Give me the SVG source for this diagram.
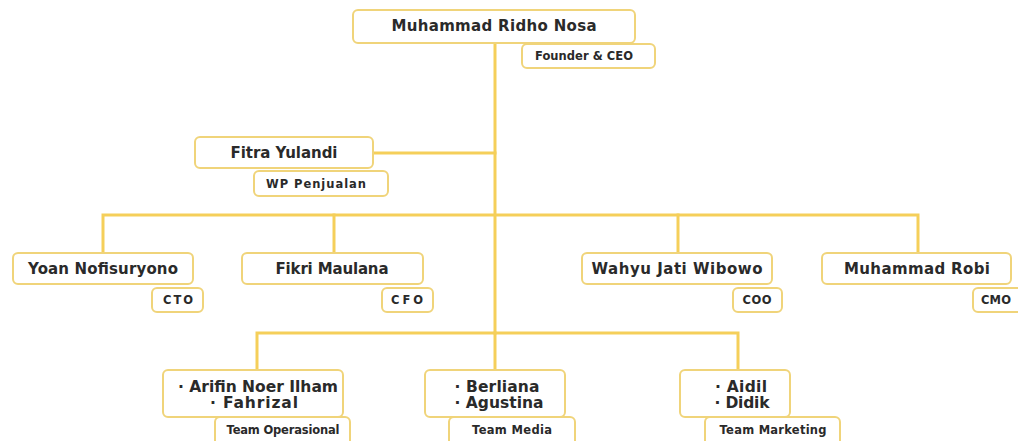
<svg xmlns="http://www.w3.org/2000/svg" width="1018" height="441" viewBox="0 0 1018 441">
<style>
.bg{fill:#ffffff}
.box{fill:#ffffff;stroke:#f0d47a;stroke-width:2}
.ln{fill:none;stroke:#f5cf5a;stroke-width:3;stroke-linecap:square}
.nm{font-family:"DejaVu Sans","Liberation Sans",sans-serif;font-weight:bold;font-size:15px;fill:#2a2a2a;text-anchor:middle}
.rl{font-family:"DejaVu Sans","Liberation Sans",sans-serif;font-weight:bold;font-size:11.5px;fill:#2a2a2a;text-anchor:middle}
.bl{font-family:"DejaVu Sans","Liberation Sans",sans-serif;font-weight:bold;font-size:15.5px;fill:#2a2a2a;text-anchor:middle}
</style>
<rect class="bg" x="0" y="0" width="1018" height="441"/>
<g id="connectors">
<path class="ln" d="M495 43 V333"/>
<path class="ln" d="M373 153 H495"/>
<path class="ln" d="M103 253 V215 H918 V253"/>
<path class="ln" d="M334 215 V253"/>
<path class="ln" d="M678 215 V253"/>
<path class="ln" d="M257 370 V333 H738 V370"/>
<path class="ln" d="M495 333 V370"/>
</g>
<g id="ceo">
<rect class="box" x="353" y="10" width="282" height="33" rx="5"/>
<text class="nm" x="494" y="31" textLength="205">Muhammad Ridho Nosa</text>
<rect class="box" x="522" y="44" width="133" height="24" rx="5"/>
<text class="rl" x="584" y="60" textLength="98">Founder &amp; CEO</text>
</g>
<g id="fitra">
<rect class="box" x="195" y="137" width="178" height="31" rx="5"/>
<text class="nm" x="284" y="158" textLength="107">Fitra Yulandi</text>
<rect class="box" x="254" y="171" width="134" height="25" rx="5"/>
<text class="rl" x="316" y="188" textLength="100">WP Penjualan</text>
</g>
<g id="yoan">
<rect class="box" x="13" y="253" width="180" height="31" rx="5"/>
<text class="nm" x="103" y="274" textLength="150">Yoan Nofisuryono</text>
<rect class="box" x="152" y="288" width="51" height="24" rx="5"/>
<text class="rl" x="178" y="304" textLength="30">CTO</text>
</g>
<g id="fikri">
<rect class="box" x="242" y="253" width="181" height="31" rx="5"/>
<text class="nm" x="332" y="274" textLength="113">Fikri Maulana</text>
<rect class="box" x="382" y="288" width="51" height="24" rx="5"/>
<text class="rl" x="407" y="304" textLength="32">CFO</text>
</g>
<g id="wahyu">
<rect class="box" x="582" y="253" width="190" height="31" rx="5"/>
<text class="nm" x="677" y="274" textLength="171">Wahyu Jati Wibowo</text>
<rect class="box" x="733" y="288" width="49" height="24" rx="5"/>
<text class="rl" x="757" y="304" textLength="29">COO</text>
</g>
<g id="robi">
<rect class="box" x="822" y="253" width="189" height="31" rx="5"/>
<text class="nm" x="917" y="274" textLength="146">Muhammad Robi</text>
<rect class="box" x="973" y="288" width="60" height="24" rx="5"/>
<text class="rl" x="996" y="304" textLength="30">CMO</text>
</g>
<g id="team-operasional">
<rect class="box" x="163" y="370" width="180" height="47" rx="5"/>
<text class="bl" x="258" y="392" textLength="160">·  Arifin Noer Ilham</text>
<text class="bl" x="254" y="408" textLength="88">·  Fahrizal</text>
<rect class="box" x="215" y="417" width="135" height="30" rx="5"/>
<text class="rl" x="283" y="434" textLength="113">Team Operasional</text>
</g>
<g id="team-media">
<rect class="box" x="425" y="370" width="140" height="47" rx="5"/>
<text class="bl" x="497" y="392" textLength="85">·  Berliana</text>
<text class="bl" x="499" y="408" textLength="89">·  Agustina</text>
<rect class="box" x="449" y="417" width="126" height="30" rx="5"/>
<text class="rl" x="512" y="434" textLength="80">Team Media</text>
</g>
<g id="team-marketing">
<rect class="box" x="680" y="370" width="110" height="47" rx="5"/>
<text class="bl" x="741" y="392" textLength="52">·  Aidil</text>
<text class="bl" x="742" y="408" textLength="55">·  Didik</text>
<rect class="box" x="705" y="417" width="135" height="30" rx="5"/>
<text class="rl" x="773" y="434" textLength="107">Team Marketing</text>
</g>
</svg>
